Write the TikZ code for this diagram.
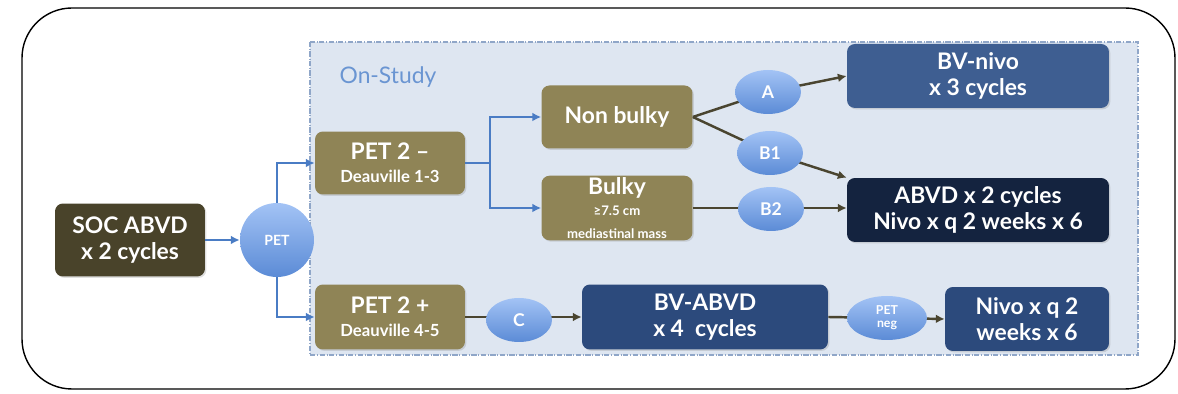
\documentclass[tikz,border=0pt]{standalone}
\usepackage{fontspec}
\setmainfont{Lato}
\usetikzlibrary{shapes.geometric,arrows.meta,shadows}

\definecolor{socbox}{HTML}{49432A}
\definecolor{olivebox}{HTML}{8F8456}
\definecolor{oliveline}{HTML}{4A4530}
\definecolor{linkblue}{HTML}{4A7CC4}
\definecolor{studyfill}{HTML}{DEE6F1}
\definecolor{studyedge}{HTML}{8FA6C8}
\definecolor{studytext}{HTML}{6A95D2}
\definecolor{midblue}{HTML}{3E5E91}
\definecolor{deepblue}{HTML}{2C4A7C}
\definecolor{navybox}{HTML}{14233F}
\definecolor{bubbletop}{HTML}{A3C3F5}
\definecolor{bubblebot}{HTML}{5B8BD6}

\tikzset{
  box/.style={rectangle, rounded corners=4.5pt, text=white, align=center,
    inner sep=1pt, font=\bfseries\fontsize{13}{15}\selectfont,
    drop shadow={opacity=0.25, shadow xshift=0.8pt, shadow yshift=-0.8pt}},
  bubble/.style={ellipse, inner sep=0pt, top color=bubbletop, bottom color=bubblebot,
    text=white, align=center, font=\bfseries\fontsize{10}{11}\selectfont,
    minimum width=1.32cm, minimum height=0.88cm},
  blueflow/.style={draw=linkblue, line width=1.5pt, -{Latex[length=5pt,width=5pt]}},
  oliveflow/.style={draw=oliveline, line width=1.4pt, -{Latex[length=5pt,width=5pt]}},
  oliveplain/.style={draw=oliveline, line width=1.4pt},
}

\begin{document}
\begin{tikzpicture}[x=0.02cm, y=-0.02cm]
  \useasboundingbox (0,0) rectangle (1178,394);

  % frame and study area
  \draw[line width=0.8pt, rounded corners=1cm] (22,8) rectangle (1175,389);
  \filldraw[fill=studyfill, draw=studyedge, densely dash dot, line width=0.7pt]
    (310,42) rectangle (1138,355);
  \node[text=studytext, font=\fontsize{13}{15}\selectfont] (study) at (388,77) {On-Study};

  % boxes
  \node[box, fill=socbox, minimum width=3cm, minimum height=1.46cm] (soc) at (130,240)
    {SOC ABVD\\x 2 cycles};
  \node[circle, inner sep=0pt, minimum size=1.48cm, top color=bubbletop, bottom color=bubblebot,
    text=white, font=\bfseries\fontsize{8}{9}\selectfont] (pet) at (277,240) {PET};

  \node[box, fill=olivebox, minimum width=3cm, minimum height=1.26cm] (petminus) at (390,163)
    {PET 2 --\\[-2pt]{\fontsize{9.5}{11}\selectfont Deauville 1-3}};
  \node[box, fill=olivebox, minimum width=3cm, minimum height=1.3cm] (petplus) at (390,317)
    {PET 2 +\\[-2pt]{\fontsize{9.5}{11}\selectfont Deauville 4-5}};

  \node[box, fill=olivebox, minimum width=3.02cm, minimum height=1.26cm] (nonbulky) at (617,117)
    {Non bulky};
  \node[box, fill=olivebox, minimum width=3.02cm, minimum height=1.28cm] (bulky) at (617,208)
    {Bulky\\[-3pt]{\fontsize{7.5}{8.5}\selectfont \char"2265 7.5 cm}\\[-2pt]{\fontsize{7.5}{8.5}\selectfont mediastinal mass}};

  \node[box, fill=midblue, minimum width=5.24cm, minimum height=1.28cm] (bvnivo) at (978,76)
    {BV-nivo\\x 3 cycles};
  \node[box, fill=navybox, minimum width=5.24cm, minimum height=1.28cm] (abvd) at (978,210)
    {ABVD x 2 cycles\\Nivo x q 2 weeks x 6};
  \node[box, fill=deepblue, minimum width=4.92cm, minimum height=1.3cm] (bvabvd) at (705,317)
    {BV-ABVD\\x 4\ \ cycles};
  \node[box, fill=deepblue, minimum width=3.28cm, minimum height=1.28cm] (nivo) at (1027,319)
    {Nivo x q 2\\weeks x 6};

  \coordinate (split) at (490,163);

  % blue connectors
  \draw[blueflow] (soc) -- (pet);
  \draw[blueflow] (pet) |- (petminus.west);
  \draw[blueflow] (pet) |- (petplus.west);
  \draw[draw=linkblue, line width=1.5pt] (petminus.east) -- (split);
  \draw[blueflow] (split) |- (nonbulky.west);
  \draw[blueflow] (split) |- (bulky.west);

  % olive connectors
  \draw[oliveplain] (nonbulky.east) -- (768,92);
  \draw[oliveflow] (768,92) -- (bvnivo.west);
  \draw[oliveplain] (nonbulky.east) -- (770,153);
  \draw[oliveflow] (770,153) -- (abvd.north west);
  \draw[oliveflow] (bulky.east) -- (abvd.west |- bulky.east);
  \draw[oliveflow] (petplus.east) -- (bvabvd.west);
  \draw[oliveflow] (bvabvd.east) -- (nivo.west);

  % bubbles
  \node[bubble] (optA) at (768,92) {A};
  \node[bubble] (optB1) at (770,153) {B1};
  \node[bubble] (optB2) at (771,209) {B2};
  \node[bubble] (optC) at (519,320) {C};
  \node[bubble, minimum width=1.6cm, font=\bfseries\fontsize{7}{7.5}\selectfont] (petneg) at (887,318)
    {PET\\neg};
\end{tikzpicture}
\end{document}
